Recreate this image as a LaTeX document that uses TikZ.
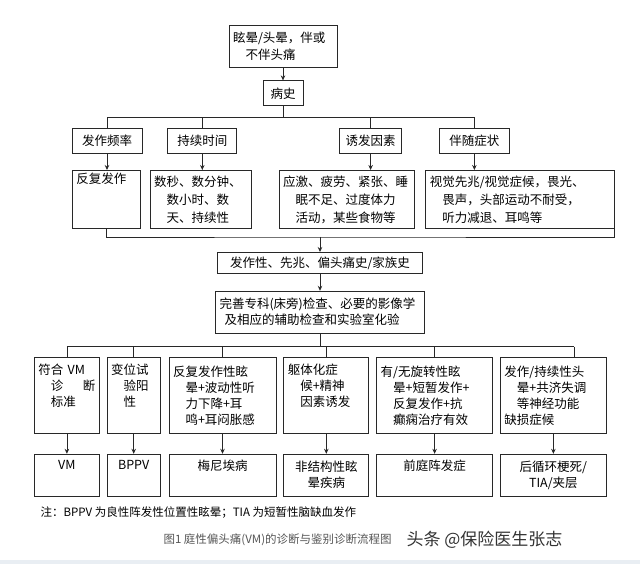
\documentclass[tikz,border=0pt]{standalone}
\usepackage{fontspec}
\setmainfont{Noto Sans CJK SC}
\usepackage{xcolor}
\usetikzlibrary{arrows, arrows.meta, positioning}

\definecolor{linegray}{RGB}{40,40,40}
\definecolor{capgray}{RGB}{85,85,85}
\definecolor{stripgray}{RGB}{233,238,243}
\newcommand{\indline}{\hspace*{1em}}

\begin{document}
\begin{tikzpicture}[x=1pt, y=-1pt, node distance=12pt]
    \tikzstyle{box} = [rectangle, draw=linegray, line width=0.8pt, inner xsep=4pt,
        inner ysep=2pt, font=\fontsize{12.5}{16}\selectfont]
    \tikzstyle{topic} = [box, minimum height=25pt, align=center]
    \tikzstyle{finding} = [box, minimum height=58pt, align=left,
        font=\fontsize{12.5}{18}\selectfont]
    \tikzstyle{criterion} = [box, minimum height=76pt, align=left]
    \tikzstyle{diagnosis} = [box, minimum height=42pt, align=center]
    \tikzstyle{link} = [draw=linegray, line width=0.8pt]
    \tikzstyle{arrow} = [link, -{Stealth[length=5pt, width=4.5pt]}]

    \useasboundingbox (0,0) rectangle (640,564);
    \fill [stripgray] (0,560) rectangle (640,564);

    % cabeça do fluxo
    \node (head) [box, text width=100pt, minimum height=42pt, align=left,
        font=\fontsize{12.5}{17}\selectfont] at (283,46)
        {眩晕/头晕，伴或\\\indline 不伴头痛};
    \node (hx) [topic, minimum width=40pt, below=13pt of head] {病史};

    % as quatro perguntas da anamnese
    \node (freq) [topic, minimum width=70pt] at (107,140.5) {发作频率};
    \node (dur) [topic, minimum width=69pt, right=25pt of freq] {持续时间};
    \node (trig) [topic, minimum width=62pt, right=102pt of dur] {诱发因素};
    \node (symp) [topic, minimum width=70pt, right=37pt of trig] {伴随症状};

    \node (rep) [finding, text width=60pt, anchor=north west] at (72,170)
        {反复发作\\\strut\\\strut};
    \node (secs) [finding, text width=93pt, right=9pt of rep]
        {数秒、数分钟、\\\indline 数小时、数\\\indline 天、持续性};
    \node (stress) [finding, text width=127pt, right=27pt of secs]
        {应激、疲劳、紧张、睡\\\indline 眠不足、过度体力\\\indline 活动，某些食物等};
    \node (vis) [finding, text width=181pt, right=11pt of stress]
        {视觉先兆/视觉症候，畏光、\\\indline 畏声，头部运动不耐受，\\\indline 听力减退、耳鸣等};

    \coordinate (split) at ([yshift=-11pt]hx.south);
    \draw [link] (hx) -- (split);
    \draw [link] (freq.north |- split) -- (symp.north |- split);
    \draw [link] (freq.north |- split) -- (freq.north);
    \draw [link] (dur.north |- split) -- (dur.north);
    \draw [link] (trig.north |- split) -- (trig.north);
    \draw [link] (symp.north |- split) -- (symp.north);
    \draw [arrow] (head) -- (hx);
    \draw [arrow] (freq) -- (freq |- rep.north);
    \draw [arrow] (dur) -- (dur |- secs.north);
    \draw [arrow] (trig) -- (trig |- stress.north);
    \draw [arrow] (symp) -- (symp |- vis.north);

    % junção e exames
    \coordinate (coll) at (320,237);
    \draw [link] (rep.south) |- (coll) -| ([xshift=-1pt]vis.south east);
    \node (hist) [box, text width=197pt, minimum height=21pt, align=center,
        below=15pt of coll] {发作性、先兆、偏头痛史/家族史};
    \node (exam) [box, text width=201pt, minimum height=42pt, align=left,
        below=17pt of hist]
        {完善专科(床旁)检查、必要的影像学\\\hspace*{0.4em}及相应的辅助检查和实验室化验};
    \draw [arrow] (coll) -- (hist);
    \draw [arrow] (hist) -- (exam);

    % critérios e diagnósticos
    \node (vm) [criterion, text width=57pt, anchor=north west] at (34,357)
        {符合 VM\\\indline 诊\hfill 断\\\indline 标准\\\strut};
    \node (bppv) [criterion, text width=45pt, right=7pt of vm]
        {变位试\\\indline 验阳\\\indline 性\\\strut};
    \node (men) [criterion, text width=99pt, right=8pt of bppv]
        {反复发作性眩\\\indline 晕+波动性听\\\indline 力下降+耳\\\indline 鸣+耳闷胀感};
    \node (psy) [criterion, text width=77pt, right=7pt of men]
        {躯体化症\\\indline 候+精神\\\indline 因素诱发\\\strut};
    \node (par) [criterion, text width=108pt, right=7pt of psy]
        {有/无旋转性眩\\\indline 晕+短暂发作+\\\indline 反复发作+抗\\\indline 癫痫治疗有效};
    \node (cer) [criterion, text width=98pt, right=7pt of par]
        {发作/持续性头\\\indline 晕+共济失调\\\indline 等神经功能\\缺损症候};

    \node (vmd) [diagnosis, text width=57pt, below=20pt of vm] {VM\\\strut};
    \node (bppvd) [diagnosis, text width=45pt, below=20pt of bppv] {BPPV\\\strut};
    \node (mend) [diagnosis, text width=99pt, below=20pt of men] {梅尼埃病\\\strut};
    \node (psyd) [diagnosis, text width=77pt, below=20pt of psy] {非结构性眩\\晕疾病};
    \node (pard) [diagnosis, text width=108pt, below=20pt of par] {前庭阵发症\\\strut};
    \node (cerd) [diagnosis, text width=98pt, below=20pt of cer] {后循环梗死/\\TIA/夹层};

    \coordinate (fork) at ([yshift=-13pt]exam.south);
    \coordinate (cerdrop) at ([xshift=21pt]cer.north);
    \draw [link] (exam) -- (fork);
    \draw [link] (fork -| vm.north) -- (fork -| cerdrop);
    \draw [link] (fork -| vm.north) -- (vm.north);
    \draw [link] (fork -| bppv.north) -- (bppv.north);
    \draw [link] (fork -| men.north) -- (men.north);
    \draw [link] (fork -| psy.north) -- (psy.north);
    \draw [link] (fork -| par.north) -- (par.north);
    \draw [link] (fork -| cerdrop) -- (cerdrop);
    \draw [arrow] (vm) -- (vmd);
    \draw [arrow] (bppv) -- (bppvd);
    \draw [arrow] (men) -- (mend);
    \draw [arrow] (psy) -- (psyd);
    \draw [arrow] (par) -- (pard);
    \draw [arrow] (cer) -- (cerd);

    % nota e legenda
    \node (note) [anchor=west, font=\fontsize{11.5}{14}\selectfont] at (37,513)
        {注：BPPV 为良性阵发性位置性眩晕；TIA 为短暂性脑缺血发作};
    \node (caption) [anchor=west, text=capgray, font=\fontsize{11.5}{14}\selectfont]
        at (160,540) {图1 庭性偏头痛(VM)的诊断与鉴别诊断流程图};
    \node (mark) [anchor=west, text=black!80, font=\fontsize{17}{20}\selectfont]
        at (403,540) {头条 @保险医生张志};
\end{tikzpicture}
\end{document}
